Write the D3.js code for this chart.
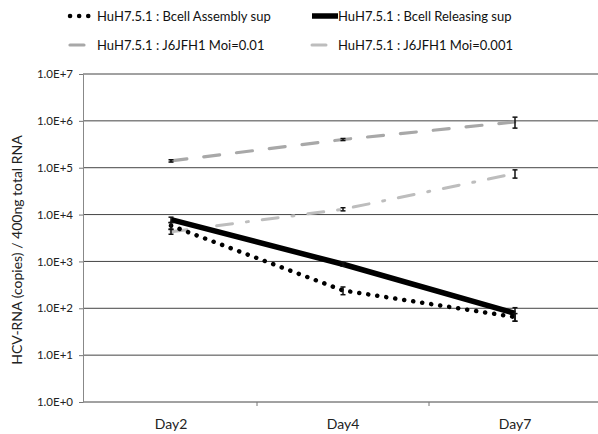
<!DOCTYPE html>
<html><head><meta charset="utf-8">
<script src="https://cdn.jsdelivr.net/npm/d3@7"></script>
<style>body{margin:0;background:#fff}svg{display:block}text{font-family:Lato,"Open Sans",sans-serif}</style>
</head><body>
<svg id="c" width="598" height="434"></svg>
<script>
const days = ["Day2","Day4","Day7"];
const assembly = [5800, 240, 65];
const assemblyErr = [900, 45, 12];
const releasing = [7800, 870, 78];
const releasingErr = [1000, 80, 25];
const moi01 = [140000, 400000, 950000];
const moi01Err = [8000, 20000, 250000];
const moi001 = [4300, 13000, 75000];
const moi001Err = [500, 1000, 15000];
const yTicks = [1,10,100,1000,10000,100000,1000000,10000000];
const yTickLabels = ["1.0E+0","1.0E+1","1.0E+2","1.0E+3","1.0E+4","1.0E+5","1.0E+6","1.0E+7"];
const legendNames = ["HuH7.5.1 : Bcell Assembly sup","HuH7.5.1 : Bcell Releasing sup","HuH7.5.1 : J6JFH1 Moi=0.01","HuH7.5.1 : J6JFH1 Moi=0.001"];

const svg = d3.select("#c");
const x = d3.scaleBand().domain(days).range([85, 601]);
const y = d3.scaleLog().domain([1, 1e7]).range([402, 74]);
const cx = d => x(d) + x.bandwidth()/2;

// gridlines
svg.append("g").selectAll("line").data(yTicks).join("line")
  .attr("x1", 83).attr("x2", 598).attr("y1", d=>y(d)).attr("y2", d=>y(d))
  .attr("stroke", "#444").attr("stroke-width", 1);
// y axis
const ya = svg.append("g").attr("transform","translate(83,0)")
  .call(d3.axisLeft(y).tickValues(yTicks).tickFormat((d,i)=>yTickLabels[i]).tickSize(4).tickPadding(6));
ya.select(".domain").attr("stroke","#888");
ya.selectAll(".tick line").attr("stroke","#777");
ya.selectAll("text").attr("font-size", 11.5).attr("fill","#222");
// x axis
const xa = svg.append("g").attr("transform","translate(0,402)")
  .call(d3.axisBottom(x).tickSize(0).tickPadding(17));
xa.select(".domain").remove();
xa.selectAll("text").attr("font-size", 14).attr("fill","#222");
svg.append("g").selectAll("line").data([days[1],days[2]]).join("line")
  .attr("x1", d=>x(d)).attr("x2", d=>x(d)).attr("y1",402).attr("y2",406).attr("stroke","#777");

// y title
svg.append("text").attr("transform","translate(22,250) rotate(-90)").attr("text-anchor","middle")
  .attr("font-size", 14).attr("fill","#222").text("HCV-RNA (copies) / 400ng total RNA");

const line = d3.line().x((d,i)=>cx(days[i])).y(d=>y(d));
const series = [
  {v: moi01, e: moi01Err, stroke:"#a8a8a8", w:3.2, dash:"16,17", cap:"round"},
  {v: moi001, e: moi001Err, stroke:"#bdbdbd", w:3, dash:"16,14,2,14", cap:"round"},
  {v: releasing, e: releasingErr, stroke:"#000", w:5.5, dash:null, cap:"butt"},
  {v: assembly, e: assemblyErr, stroke:"#000", w:4.5, dash:"0.1,9", cap:"round"}
];
series.forEach(s=>{
  svg.append("path").datum(s.v).attr("d", line).attr("fill","none")
    .attr("stroke", s.stroke).attr("stroke-width", s.w).attr("stroke-linecap", s.cap)
    .attr("stroke-dasharray", s.dash);
  const g = svg.append("g");
  s.v.forEach((v,i)=>{
    const X = cx(days[i]);
    const y1 = y(v + s.e[i]), y2 = y(Math.max(v - s.e[i], 0.5));
    g.append("line").attr("x1",X).attr("x2",X).attr("y1",y1).attr("y2",y2).attr("stroke","#111").attr("stroke-width",1.5);
    g.append("line").attr("x1",X-2.5).attr("x2",X+2.5).attr("y1",y1).attr("y2",y1).attr("stroke","#111").attr("stroke-width",1.5);
    g.append("line").attr("x1",X-2.5).attr("x2",X+2.5).attr("y1",y2).attr("y2",y2).attr("stroke","#111").attr("stroke-width",1.5);
  });
});

// legend
const leg = [
  {x:70, y:16, s:series[3], len:24, tx:97},
  {x:312, y:16, s:series[2], len:26, tx:338},
  {x:70, y:45, s:series[0], len:14, tx:97},
  {x:312, y:45, s:series[1], len:14, tx:338}
];
leg.forEach((l,i)=>{
  svg.append("line").attr("x1",l.x).attr("x2",l.x+l.len).attr("y1",l.y).attr("y2",l.y)
    .attr("stroke",l.s.stroke).attr("stroke-width",l.s.w).attr("stroke-linecap",l.s.cap)
    .attr("stroke-dasharray", i===0 ? "0.1,9" : null);
  svg.append("text").attr("x",l.tx).attr("y",l.y+4.5).attr("font-size",13).attr("fill","#111").text(legendNames[i]);
});
</script>
</body></html>
